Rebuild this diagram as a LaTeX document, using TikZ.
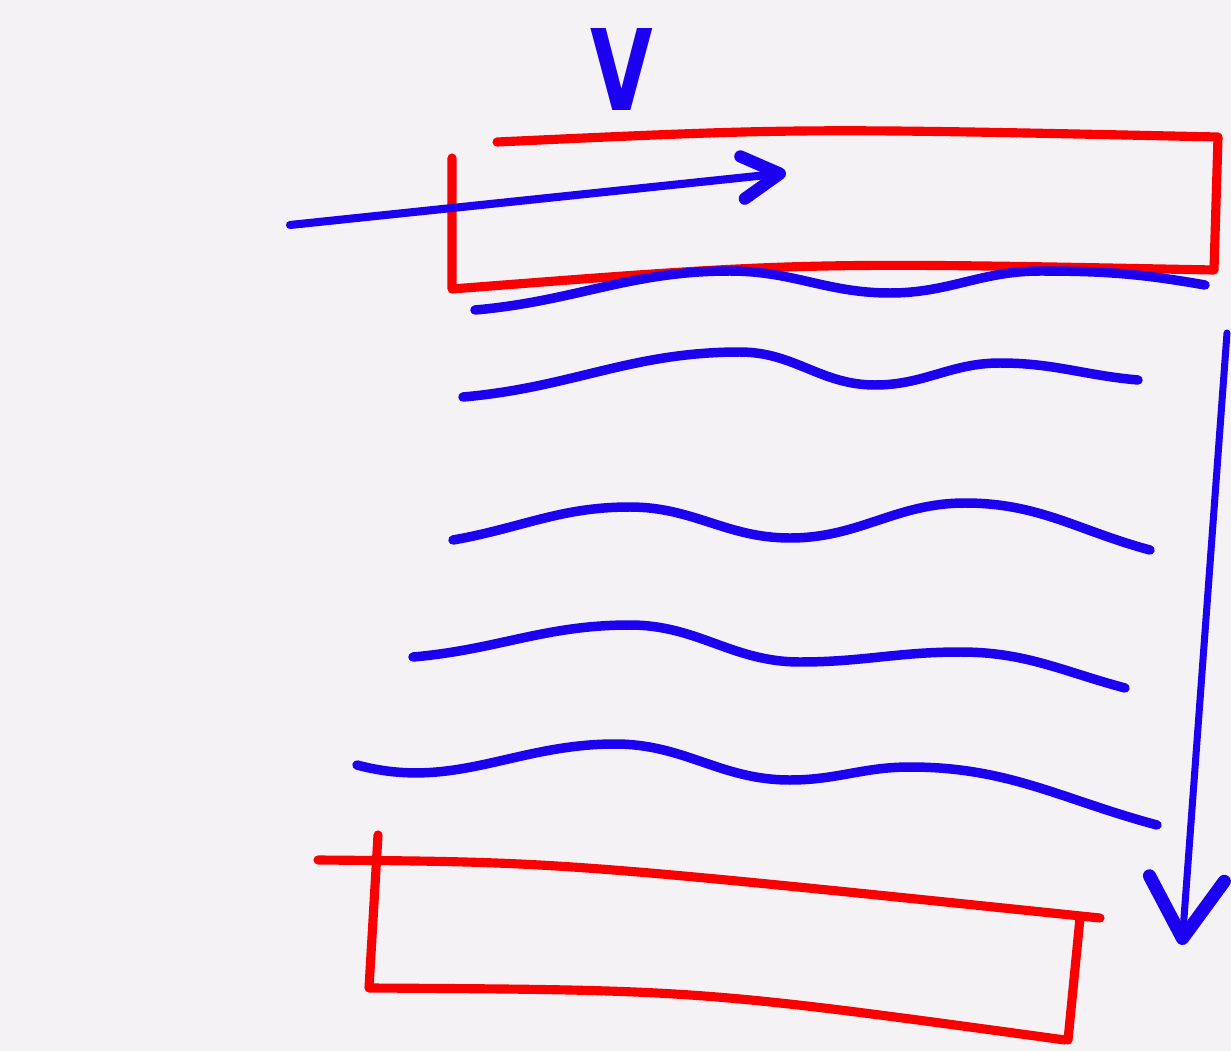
\documentclass[tikz,border=0pt]{standalone}
\usepackage{fontspec}
\setsansfont{DejaVu Sans}
\usetikzlibrary{arrows.meta}

\definecolor{pen blue}{RGB}{28,0,240}
\definecolor{pen red}{RGB}{250,0,0}
\definecolor{paper}{RGB}{245,242,245}

\begin{document}
\begin{tikzpicture}[
    x=0.02cm, y=-0.02cm,
    plate/.style = {draw=pen red, line width=5.2pt, line cap=round, line join=round},
    wave/.style  = {draw=pen blue, line width=5.4pt, line cap=round},
    flow/.style  = {draw=pen blue, line width=4.6pt, line cap=round,
                    -{Straight Barb[length=7.5mm, width=8.5mm, line width=7pt, round]}},
    fall/.style  = {draw=pen blue, line width=4pt, line cap=round,
                    -{Straight Barb[length=12mm, width=15mm, line width=7.5pt, round]}}
  ]

  % paper
  \fill[paper] (0,0) rectangle (1231,1051);
  \useasboundingbox (0,0) rectangle (1231,1051);

  % label
  \node[text=pen blue, font=\sffamily\bfseries\fontsize{64}{64}\selectfont,
        inner sep=0pt] (vlabel) at (622,70) {\scalebox{0.72}[1]{V}};

  % upper plate
  \path[plate] (497,142) .. controls (800,128) .. (1218,137)
    -- (1214,270) .. controls (800,262) .. (452,289) -- (452,158);

  % lower plate
  \path[plate] (318,860) .. controls (560,862) .. (1100,918);
  \path[plate] (378,835) -- (369,988) .. controls (700,990) .. (1065,1040);
  \path[plate] (1080,918) -- (1068,1040);

  % velocity of upper plate
  \coordinate (flowstart) at (290,225);
  \coordinate (flowend)   at (786,173);
  \draw[flow] (flowstart) -- (flowend);

  % downward arrow
  \coordinate (fallstart) at (1227,333);
  \coordinate (fallend)   at (1182,945);
  \draw[fall] (fallstart) -- (fallend);

  % fluid layers
  \draw[wave] (475,310) to[out=5,in=180] (730,271) to[out=0,in=180] (890,293)
    to[out=0,in=180] (1040,271) to[out=0,in=170] (1205,285);
  \draw[wave] (463,397) to[out=5,in=180] (740,352) to[out=0,in=180] (875,385)
    to[out=0,in=180] (1000,363) to[out=0,in=175] (1138,380);
  \draw[wave] (453,540) to[out=10,in=180] (630,507) to[out=0,in=180] (790,538)
    to[out=0,in=180] (965,503) to[out=0,in=165] (1150,550);
  \draw[wave] (413,657) to[out=5,in=180] (630,625) to[out=0,in=180] (800,662)
    to[out=0,in=180] (960,652) to[out=0,in=165] (1125,688);
  \draw[wave] (357,765) to[out=-15,in=180] (615,744) to[out=0,in=180] (790,780)
    to[out=0,in=180] (910,767) to[out=0,in=165] (1157,825);

\end{tikzpicture}
\end{document}
